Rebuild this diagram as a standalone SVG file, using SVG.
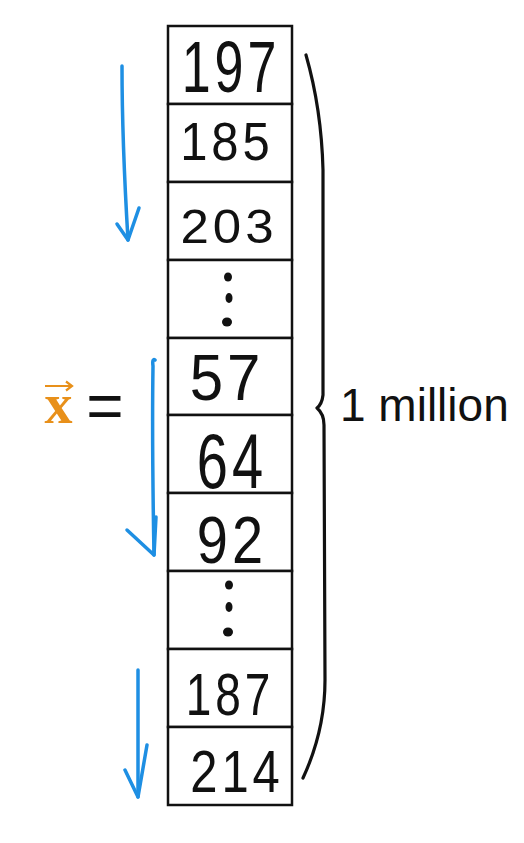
<svg xmlns="http://www.w3.org/2000/svg" width="524" height="843" viewBox="0 0 524 843">
<style>
.cell{fill:#fff;stroke:#111;stroke-width:2.5}
.num{font-family:"Liberation Sans",Arial,sans-serif;fill:#111;text-anchor:middle}
.sp{letter-spacing:4px}
.dot{fill:#111}
.blue{fill:none;stroke:#1E8FE3;stroke-width:3.5;stroke-linecap:round;stroke-linejoin:round}
.ink{fill:none;stroke:#111;stroke-width:3.2;stroke-linecap:round;stroke-linejoin:round}
.lbl{font-family:"Liberation Sans",Arial,sans-serif;fill:#111}
</style>
<rect width="524" height="843" fill="#fff"/>
<g id="cells">
<g id="cell1"><rect class="cell" x="168" y="26" width="124" height="78"/><text class="num sp" font-size="52" transform="translate(231,92) scale(1,1.4)">197</text></g>
<g id="cell2"><rect class="cell" x="168" y="104" width="124" height="78"/><text class="num sp" font-size="49" transform="translate(227,160) scale(1,1.08)">185</text></g>
<g id="cell3"><rect class="cell" x="168" y="182" width="124" height="78"/><text class="num sp" font-size="51" transform="translate(229,243) scale(1,0.96)">203</text></g>
<g id="cell4"><rect class="cell" x="168" y="260" width="124" height="78"/><ellipse class="dot" cx="228" cy="277" rx="4" ry="4.5"/><ellipse class="dot" cx="229" cy="298" rx="3.5" ry="5"/><ellipse class="dot" cx="227" cy="322" rx="5" ry="4.5"/></g>
<g id="cell5"><rect class="cell" x="168" y="338" width="124" height="77"/><text class="num sp" font-size="60" transform="translate(227,400) scale(1,1.09)">57</text></g>
<g id="cell6"><rect class="cell" x="168" y="415" width="124" height="78"/><text class="num sp" font-size="56" transform="translate(232,488) scale(1,1.4)">64</text></g>
<g id="cell7"><rect class="cell" x="168" y="493" width="124" height="78"/><text class="num sp" font-size="56" transform="translate(232,563) scale(1,1.2)">92</text></g>
<g id="cell8"><rect class="cell" x="168" y="571" width="124" height="78"/><ellipse class="dot" cx="229" cy="585" rx="4" ry="4.5"/><ellipse class="dot" cx="229" cy="607" rx="3.5" ry="5"/><ellipse class="dot" cx="228" cy="632" rx="5" ry="4.5"/></g>
<g id="cell9"><rect class="cell" x="168" y="649" width="124" height="78"/><text class="num sp" font-size="46" transform="translate(230,715) scale(1,1.3)">187</text></g>
<g id="cell10"><rect class="cell" x="168" y="727" width="124" height="78"/><text class="num sp" font-size="49" transform="translate(237,792) scale(1,1.2)">214</text></g>
</g>
<g id="connectors">
<g id="arrow1"><path class="blue" d="M122,66 C122,120 125,190 128,240"/><path class="blue" d="M117,224 L128,240 L139,208"/></g>
<g id="arrow2"><path class="blue" d="M155,360 Q152,358 153,366 C152,430 153,500 154,555"/><path class="blue" d="M127,530 L154,555 L156,517"/></g>
<g id="arrow3"><path class="blue" d="M138,670 L138,797"/><path class="blue" d="M125,770 L138,797 L147,745"/></g>
</g>
<g id="brace"><path class="ink" d="M306,55 C316,90 322,130 323,170 L323,395 Q322,404 317,408 Q324,414 324,425 L325,680 C325,720 316,750 303,778"/></g>
<g id="label-vector">
<text x="58.5" y="423" font-family="'Liberation Serif','Times New Roman',serif" font-weight="bold" font-size="56" fill="#E8901A" text-anchor="middle">x</text>
<path d="M45,386 L72,386 M66,381.5 L72,386 L66,390.5" fill="none" stroke="#E8901A" stroke-width="2.2"/>
<text x="105" y="428" class="lbl" font-size="64" text-anchor="middle">=</text>
</g>
<g id="label-million"><text x="340" y="421" class="lbl" font-size="46">1 million</text></g>
</svg>
